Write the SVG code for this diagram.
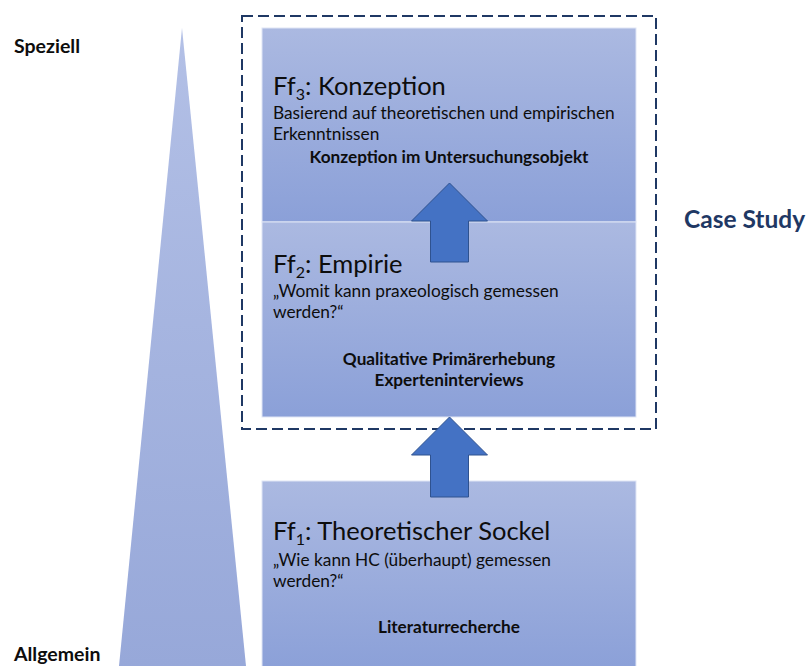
<svg xmlns="http://www.w3.org/2000/svg" width="809" height="666" viewBox="0 0 809 666">
  <defs>
    <linearGradient id="boxFill" x1="0" y1="0" x2="0" y2="1">
      <stop offset="0" stop-color="#abb9e1"/>
      <stop offset="1" stop-color="#8ba0d8"/>
    </linearGradient>
    <linearGradient id="pyramidFill" x1="0" y1="0" x2="0" y2="1">
      <stop offset="0" stop-color="#b3c0e6"/>
      <stop offset="1" stop-color="#97a8d9"/>
    </linearGradient>
  </defs>
  <style>
    text { font-family: Lato, "Liberation Sans", sans-serif; fill: #0d0d0d; }
    .side { font-size: 19.5px; font-weight: bold; }
    .box { fill: url(#boxFill); stroke: #dfe5f5; stroke-width: 1; }
    .title { font-size: 25.5px; }
    .sub { font-size: 16px; }
    .body { font-size: 17.3px; }
    .method { font-size: 17.2px; font-weight: bold; text-anchor: middle; }
    .arrow { fill: #4472c4; stroke: #2f528f; stroke-width: 1; }
    .frame { fill: none; stroke: #1f3864; stroke-width: 2; stroke-dasharray: 11 5; }
    .case { font-size: 24.5px; font-weight: bold; fill: #1f3864; }
  </style>

  <!-- pyramid: specific (top) to general (base) -->
  <g id="pyramid">
    <polygon points="182,28 119,666 246,666" fill="url(#pyramidFill)"/>
  </g>
  <g id="label-speziell">
    <text class="side" x="14" y="53">Speziell</text>
  </g>
  <g id="label-allgemein">
    <text class="side" x="14" y="661">Allgemein</text>
  </g>

  <!-- case study frame around Ff2 and Ff3 -->
  <g id="case-study">
    <rect class="frame" x="242" y="16" width="414" height="413"/>
    <text class="case" x="684" y="228">Case Study</text>
  </g>

  <g id="ff3">
    <rect class="box" x="262" y="28" width="374" height="194"/>
    <text class="title" x="273" y="95">Ff<tspan class="sub" dy="5">3</tspan><tspan dy="-5">: Konzeption</tspan></text>
    <text class="body" x="273" y="119">Basierend auf theoretischen und empirischen</text>
    <text class="body" x="273" y="140">Erkenntnissen</text>
    <text class="method" x="449" y="163">Konzeption im Untersuchungsobjekt</text>
  </g>

  <g id="ff2">
    <rect class="box" x="262" y="222" width="374" height="195"/>
    <text class="title" x="273" y="273">Ff<tspan class="sub" dy="5">2</tspan><tspan dy="-5">: Empirie</tspan></text>
    <text class="body" x="273" y="297">„Womit kann praxeologisch gemessen</text>
    <text class="body" x="273" y="318">werden?“</text>
    <text class="method" x="449" y="365">Qualitative Primärerhebung</text>
    <text class="method" x="449" y="386">Experteninterviews</text>
  </g>

  <g id="ff1">
    <rect class="box" x="262" y="481" width="374" height="190"/>
    <text class="title" x="273" y="540">Ff<tspan class="sub" dy="5">1</tspan><tspan dy="-5">: Theoretischer Sockel</tspan></text>
    <text class="body" x="273" y="566">„Wie kann HC (überhaupt) gemessen</text>
    <text class="body" x="273" y="587">werden?“</text>
    <text class="method" x="449" y="633">Literaturrecherche</text>
  </g>

  <!-- block arrows between the stages -->
  <g id="connectors">
    <polygon class="arrow" points="449.5,183 487.5,221 468.5,221 468.5,262 430.5,262 430.5,221 411.5,221"/>
    <polygon class="arrow" points="449.5,417 487.5,455 468.5,455 468.5,497 430.5,497 430.5,455 411.5,455"/>
  </g>
</svg>
